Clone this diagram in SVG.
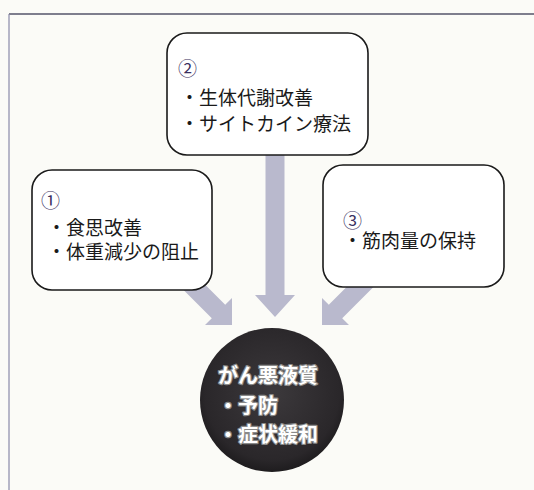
<svg xmlns="http://www.w3.org/2000/svg" width="534" height="490" viewBox="0 0 534 490">
<defs>
<style>
.box{fill:#ffffff;stroke:#1a1a1a;stroke-width:1.6}
.t{font-family:"Noto Sans CJK JP","Noto Sans CJK SC",sans-serif;font-size:19px;fill:#1a1a1a}
.num{font-family:"Noto Sans CJK JP","Noto Sans CJK SC",sans-serif;font-size:19px;fill:#3a3060}
.arrow{fill:#b9b9cd}
.ct{font-family:"Noto Sans CJK JP","Noto Sans CJK SC",sans-serif;font-size:20px;font-weight:bold;fill:#ffffff;stroke:#8a8a8a;stroke-width:2.4;paint-order:stroke;stroke-linejoin:round}
</style>
<radialGradient id="dark" cx="0.5" cy="0.45" r="0.55">
<stop offset="0" stop-color="#3c393c"/>
<stop offset="0.85" stop-color="#2a272a"/>
<stop offset="1" stop-color="#1e1c1e"/>
</radialGradient>
</defs>
<rect x="0" y="0" width="534" height="490" fill="#fbfbf7"/>
<g id="frame" fill="none">
<line x1="9" y1="14" x2="534" y2="14" stroke="#55556a" stroke-width="1.6"/>
<line x1="9" y1="14" x2="9" y2="490" stroke="#8a8aa8" stroke-width="1.2"/>
</g>
<g id="connectors">
<polygon class="arrow" points="265.5,150 284.5,150 284.5,295 295,295 275,317 255,295 265.5,295"/>
<polygon class="arrow" points="191.7,271.3 225.2,304.8 232,298 232,325 205,325 211.8,318.2 178.3,284.7"/>
<polygon class="arrow" points="362.3,271.3 328.8,304.8 322,298 322,325 349,325 342.2,318.2 375.7,284.7"/>
</g>
<g id="node2">
<rect class="box" x="167" y="33" width="201" height="122" rx="20"/>
<text class="num" x="178" y="76">②</text>
<text class="t" x="180" y="105">・生体代謝改善</text>
<text class="t" x="180" y="131">・サイトカイン療法</text>
</g>
<g id="node1">
<rect class="box" x="32" y="170" width="180" height="120" rx="20"/>
<text class="num" x="41" y="208">①</text>
<text class="t" x="47" y="235">・食思改善</text>
<text class="t" x="47" y="259">・体重減少の阻止</text>
</g>
<g id="node3">
<rect class="box" x="323" y="165" width="181" height="122" rx="20"/>
<text class="num" x="343" y="228">③</text>
<text class="t" x="343" y="248">・筋肉量の保持</text>
</g>
<g id="center">
<circle cx="272" cy="400" r="72" fill="url(#dark)"/>
<text class="ct" x="218" y="383">がん悪液質</text>
<text class="ct" x="218" y="413">・予防</text>
<text class="ct" x="218" y="442">・症状緩和</text>
</g>
</svg>
